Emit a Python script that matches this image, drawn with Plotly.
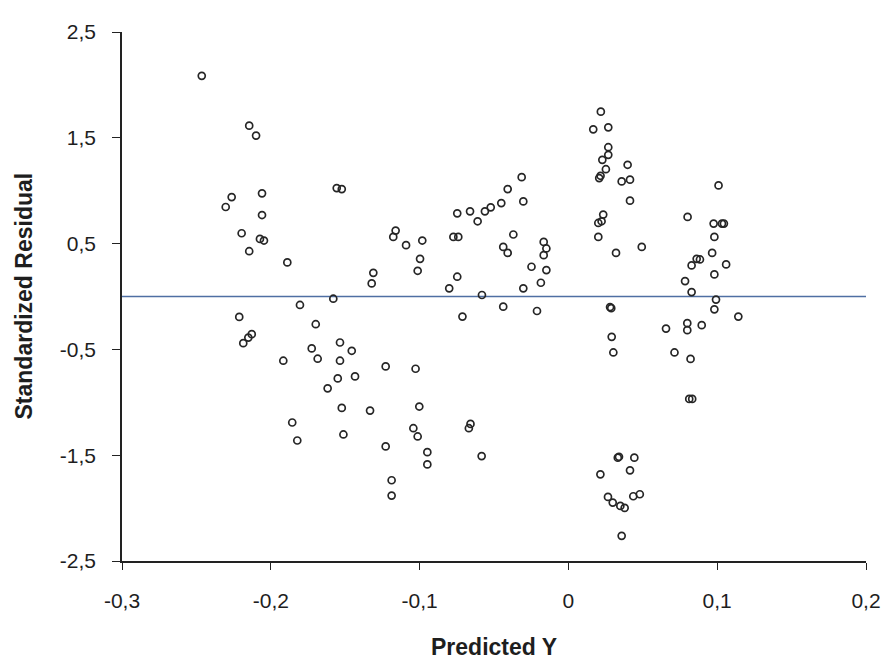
import plotly.graph_objects as go

predicted_y = [
    -0.2464, -0.2145, -0.2099, -0.2263, -0.2303, -0.2059, -0.2059, -0.2196, -0.2073, -0.2046,
    -0.2145, -0.1889, -0.1557, -0.1523, -0.1804, -0.1580,
    -0.2212, -0.2128, -0.2151, -0.2185, -0.1698, -0.1725, -0.1685, -0.1916, -0.1535, -0.1456,
    -0.1535, -0.1550, -0.1434, -0.1618, -0.1523, -0.1856, -0.1822, -0.1512,
    -0.1311, -0.1322, -0.1161, -0.1177, -0.1091, -0.0982, -0.0997, -0.1013,
    -0.0747, -0.0661, -0.0610, -0.0561, -0.0522, -0.0451, -0.0408, -0.0314, -0.0303,
    -0.0773, -0.0740, -0.0370, -0.0438, -0.0408, -0.0166, -0.0148, -0.0166, -0.0248, -0.0148,
    -0.0185, -0.0303, -0.0747, -0.0801, -0.0581, -0.0438, -0.0211, -0.0712,
    -0.1228, -0.1027, -0.1333, -0.1002, -0.1042, -0.1013, -0.0658, -0.0669, -0.1228,
    -0.0948, -0.0948, -0.0583, -0.1188, -0.1188,
    0.0218, 0.0167, 0.0268, 0.0268, 0.0268, 0.0228, 0.0252, 0.0216, 0.0207,
    0.0398, 0.0358, 0.0414, 0.0414, 0.0234, 0.0201, 0.0223, 0.0201, 0.0320, 0.0493,
    0.0280, 0.0288, 0.0291, 0.0302, 0.0656, 0.0799, 0.0799, 0.0896, 0.0713, 0.0821,
    0.1009, 0.0801, 0.0976, 0.1032, 0.1045, 0.0981, 0.0966, 0.1060, 0.0862, 0.0828, 0.0884,
    0.0981, 0.0784, 0.0828, 0.0992, 0.0981, 0.1142,
    0.0812, 0.0832, 0.0332, 0.0340, 0.0443, 0.0414, 0.0215,
    0.0266, 0.0298, 0.0349, 0.0378, 0.0436, 0.0480, 0.0358,
]

std_residual = [
    2.086, 1.615, 1.521, 0.940, 0.846, 0.975, 0.770, 0.598, 0.544, 0.529,
    0.428, 0.322, 1.025, 1.015, -0.080, -0.021,
    -0.193, -0.356, -0.388, -0.441, -0.262, -0.491, -0.588, -0.607, -0.435, -0.513,
    -0.607, -0.774, -0.755, -0.868, -1.053, -1.191, -1.361, -1.304,
    0.224, 0.124, 0.623, 0.563, 0.485, 0.529, 0.356, 0.243,
    0.786, 0.805, 0.711, 0.805, 0.843, 0.883, 1.015, 1.128, 0.899,
    0.563, 0.563, 0.586, 0.469, 0.412, 0.516, 0.454, 0.391, 0.281, 0.250,
    0.130, 0.077, 0.187, 0.077, 0.014, -0.096, -0.137, -0.190,
    -0.661, -0.683, -1.078, -1.040, -1.245, -1.323, -1.204, -1.245, -1.417,
    -1.471, -1.587, -1.508, -1.737, -1.882,
    1.747, 1.580, 1.599, 1.411, 1.339, 1.292, 1.203, 1.141, 1.119,
    1.245, 1.088, 1.104, 0.906, 0.774, 0.695, 0.711, 0.563, 0.412, 0.469,
    -0.100, -0.110, -0.381, -0.529, -0.303, -0.252, -0.318, -0.271, -0.529, -0.590,
    1.050, 0.752, 0.689, 0.689, 0.689, 0.563, 0.412, 0.303, 0.356, 0.294, 0.350,
    0.209, 0.146, 0.042, -0.029, -0.121, -0.190,
    -0.968, -0.968, -1.523, -1.515, -1.523, -1.643, -1.681,
    -1.894, -1.948, -1.979, -1.998, -1.888, -1.869, -2.262,
]

x_range = [-0.3, 0.2]
y_range = [-2.5, 2.5]
x_ticks = [-0.3, -0.2, -0.1, 0.0, 0.1, 0.2]
x_tick_labels = ["-0,3", "-0,2", "-0,1", "0", "0,1", "0,2"]
y_ticks = [2.5, 1.5, 0.5, -0.5, -1.5, -2.5]
y_tick_labels = ["2,5", "1,5", "0,5", "-0,5", "-1,5", "-2,5"]
zero_line_x = [-0.3, 0.2]
zero_line_y = [0, 0]
x_title = "Predicted Y"
y_title = "Standardized Residual"

FONT = "Liberation Sans, Arial, sans-serif"

fig = go.Figure()
fig.add_trace(go.Scatter(
    x=zero_line_x, y=zero_line_y, mode="lines",
    line=dict(color="#4f6fa3", width=1.4),
    hoverinfo="skip", showlegend=False,
))
fig.add_trace(go.Scatter(
    x=predicted_y, y=std_residual, mode="markers",
    marker=dict(symbol="circle-open", size=7, color="#262626",
                line=dict(width=1.7, color="#262626")),
    showlegend=False,
))

fig.update_layout(
    width=888, height=654,
    margin=dict(l=114, r=30, t=22, b=101),
    paper_bgcolor="white", plot_bgcolor="white",
    font=dict(family=FONT, size=21, color="#1e1e1e"),
    xaxis=dict(
        range=x_range, tickvals=x_ticks, ticktext=x_tick_labels,
        showgrid=False, zeroline=False,
        showline=True, linecolor="#222222", linewidth=1.6,
        ticks="outside", ticklen=7, tickwidth=1.4, tickcolor="#222222",
        ticklabelstandoff=13,
        tickfont=dict(family=FONT, size=21, color="#1e1e1e"),
    ),
    yaxis=dict(
        range=y_range, tickvals=y_ticks, ticktext=y_tick_labels,
        showgrid=False, zeroline=False,
        showline=True, linecolor="#222222", linewidth=1.6,
        ticks="outside", ticklen=8, tickwidth=1.4, tickcolor="#222222",
        ticklabelstandoff=12,
        tickfont=dict(family=FONT, size=21, color="#1e1e1e"),
    ),
    annotations=[
        dict(text="<b>" + x_title + "</b>", xref="paper", yref="paper",
             x=0.5, y=0, xanchor="center", yanchor="middle", yshift=-86,
             showarrow=False, font=dict(family=FONT, size=23, color="#1e1e1e")),
        dict(text="<b>" + y_title + "</b>", xref="paper", yref="paper",
             x=0, y=0.5, xanchor="center", yanchor="middle", xshift=-99,
             textangle=-90,
             showarrow=False, font=dict(family=FONT, size=23, color="#1e1e1e")),
    ],
)

fig.write_html("out.html")
